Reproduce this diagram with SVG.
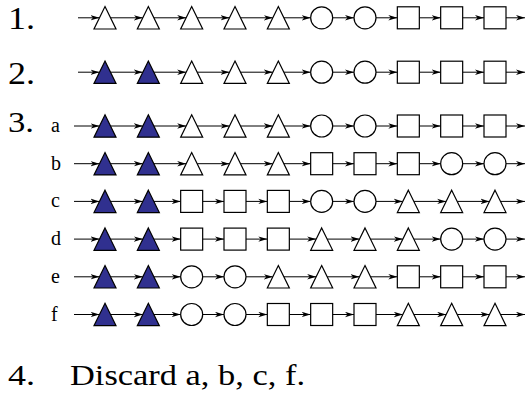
<svg xmlns="http://www.w3.org/2000/svg" xmlns:xlink="http://www.w3.org/1999/xlink" width="526" height="393" viewBox="0 0 526 393">
<style>
.w{fill:#fff;stroke:#000;stroke-width:1.2}
.b{fill:#30308f;stroke:#000;stroke-width:1.2}
.c{stroke:#000;stroke-width:1;fill:none;marker-end:url(#ah)}
.t{font-family:"Liberation Serif","Times New Roman",serif;fill:#000}
.big{font-size:32px}
.mid{font-size:29px}
.lbl{font-size:20px}
</style>
<defs>
<marker id="ah" markerUnits="userSpaceOnUse" markerWidth="11" markerHeight="7" refX="9" refY="3" orient="auto">
<path d="M0,0.3 L9,3 L0,5.7 L2.5,3 z" fill="#000"/>
</marker>
<polygon id="tri" points="0,-11.2 11,11.2 -11,11.2"/>
<circle id="circ" r="11"/>
<rect id="sq" x="-11" y="-11" width="22" height="22"/>
</defs>

<g id="labels">
<text class="t big" x="8" y="29.3" textLength="27" lengthAdjust="spacingAndGlyphs">1.</text>
<text class="t big" x="8" y="83.5" textLength="27" lengthAdjust="spacingAndGlyphs">2.</text>
<text class="t mid" x="8" y="132" textLength="26" lengthAdjust="spacingAndGlyphs">3.</text>
<text class="t lbl" x="51" y="132">a</text>
<text class="t lbl" x="51" y="169.7">b</text>
<text class="t lbl" x="51" y="207.4">c</text>
<text class="t lbl" x="51" y="245.1">d</text>
<text class="t lbl" x="51" y="282.8">e</text>
<text class="t lbl" x="51" y="320.5">f</text>
<text class="t mid" x="8" y="385" textLength="27" lengthAdjust="spacingAndGlyphs">4.</text>
<text class="t mid" x="70" y="385" textLength="235" lengthAdjust="spacingAndGlyphs">Discard a, b, c, f.</text>
</g>

<g id="connectors">
<!-- row 1 -->
<line class="c" x1="78" y1="17.8" x2="99.5" y2="17.8"/>
<line class="c" x1="110.5" y1="17.8" x2="142.83" y2="17.8"/>
<line class="c" x1="153.83" y1="17.8" x2="186.17" y2="17.8"/>
<line class="c" x1="197.17" y1="17.8" x2="229.5" y2="17.8"/>
<line class="c" x1="240.5" y1="17.8" x2="272.83" y2="17.8"/>
<line class="c" x1="283.83" y1="17.8" x2="310.67" y2="17.8"/>
<line class="c" x1="332.67" y1="17.8" x2="354" y2="17.8"/>
<line class="c" x1="376" y1="17.8" x2="397.33" y2="17.8"/>
<line class="c" x1="419.33" y1="17.8" x2="440.67" y2="17.8"/>
<line class="c" x1="462.67" y1="17.8" x2="484" y2="17.8"/>
<line class="c" x1="506" y1="17.8" x2="525" y2="17.8"/>
<!-- row 2 -->
<line class="c" x1="78" y1="72.2" x2="99.5" y2="72.2"/>
<line class="c" x1="110.5" y1="72.2" x2="142.83" y2="72.2"/>
<line class="c" x1="153.83" y1="72.2" x2="186.17" y2="72.2"/>
<line class="c" x1="197.17" y1="72.2" x2="229.5" y2="72.2"/>
<line class="c" x1="240.5" y1="72.2" x2="272.83" y2="72.2"/>
<line class="c" x1="283.83" y1="72.2" x2="310.67" y2="72.2"/>
<line class="c" x1="332.67" y1="72.2" x2="354" y2="72.2"/>
<line class="c" x1="376" y1="72.2" x2="397.33" y2="72.2"/>
<line class="c" x1="419.33" y1="72.2" x2="440.67" y2="72.2"/>
<line class="c" x1="462.67" y1="72.2" x2="484" y2="72.2"/>
<line class="c" x1="506" y1="72.2" x2="525" y2="72.2"/>
<!-- row a -->
<line class="c" x1="74" y1="126" x2="99.5" y2="126"/>
<line class="c" x1="110.5" y1="126" x2="142.83" y2="126"/>
<line class="c" x1="153.83" y1="126" x2="186.17" y2="126"/>
<line class="c" x1="197.17" y1="126" x2="229.5" y2="126"/>
<line class="c" x1="240.5" y1="126" x2="272.83" y2="126"/>
<line class="c" x1="283.83" y1="126" x2="310.67" y2="126"/>
<line class="c" x1="332.67" y1="126" x2="354" y2="126"/>
<line class="c" x1="376" y1="126" x2="397.33" y2="126"/>
<line class="c" x1="419.33" y1="126" x2="440.67" y2="126"/>
<line class="c" x1="462.67" y1="126" x2="484" y2="126"/>
<line class="c" x1="506" y1="126" x2="525" y2="126"/>
<!-- row b -->
<line class="c" x1="74" y1="163.7" x2="99.5" y2="163.7"/>
<line class="c" x1="110.5" y1="163.7" x2="142.83" y2="163.7"/>
<line class="c" x1="153.83" y1="163.7" x2="186.17" y2="163.7"/>
<line class="c" x1="197.17" y1="163.7" x2="229.5" y2="163.7"/>
<line class="c" x1="240.5" y1="163.7" x2="272.83" y2="163.7"/>
<line class="c" x1="283.83" y1="163.7" x2="310.67" y2="163.7"/>
<line class="c" x1="332.67" y1="163.7" x2="354" y2="163.7"/>
<line class="c" x1="376" y1="163.7" x2="397.33" y2="163.7"/>
<line class="c" x1="419.33" y1="163.7" x2="440.67" y2="163.7"/>
<line class="c" x1="462.67" y1="163.7" x2="484" y2="163.7"/>
<line class="c" x1="506" y1="163.7" x2="525" y2="163.7"/>
<!-- row c -->
<line class="c" x1="74" y1="201.4" x2="99.5" y2="201.4"/>
<line class="c" x1="110.5" y1="201.4" x2="142.83" y2="201.4"/>
<line class="c" x1="153.83" y1="201.4" x2="180.67" y2="201.4"/>
<line class="c" x1="202.67" y1="201.4" x2="224" y2="201.4"/>
<line class="c" x1="246" y1="201.4" x2="267.33" y2="201.4"/>
<line class="c" x1="289.33" y1="201.4" x2="310.67" y2="201.4"/>
<line class="c" x1="332.67" y1="201.4" x2="354" y2="201.4"/>
<line class="c" x1="376" y1="201.4" x2="402.83" y2="201.4"/>
<line class="c" x1="413.83" y1="201.4" x2="446.17" y2="201.4"/>
<line class="c" x1="457.17" y1="201.4" x2="489.5" y2="201.4"/>
<line class="c" x1="500.5" y1="201.4" x2="525" y2="201.4"/>
<!-- row d -->
<line class="c" x1="74" y1="239.1" x2="99.5" y2="239.1"/>
<line class="c" x1="110.5" y1="239.1" x2="142.83" y2="239.1"/>
<line class="c" x1="153.83" y1="239.1" x2="180.67" y2="239.1"/>
<line class="c" x1="202.67" y1="239.1" x2="224" y2="239.1"/>
<line class="c" x1="246" y1="239.1" x2="267.33" y2="239.1"/>
<line class="c" x1="289.33" y1="239.1" x2="316.17" y2="239.1"/>
<line class="c" x1="327.17" y1="239.1" x2="359.5" y2="239.1"/>
<line class="c" x1="370.5" y1="239.1" x2="402.83" y2="239.1"/>
<line class="c" x1="413.83" y1="239.1" x2="440.67" y2="239.1"/>
<line class="c" x1="462.67" y1="239.1" x2="484" y2="239.1"/>
<line class="c" x1="506" y1="239.1" x2="525" y2="239.1"/>
<!-- row e -->
<line class="c" x1="74" y1="276.8" x2="99.5" y2="276.8"/>
<line class="c" x1="110.5" y1="276.8" x2="142.83" y2="276.8"/>
<line class="c" x1="153.83" y1="276.8" x2="180.67" y2="276.8"/>
<line class="c" x1="202.67" y1="276.8" x2="224" y2="276.8"/>
<line class="c" x1="246" y1="276.8" x2="272.83" y2="276.8"/>
<line class="c" x1="283.83" y1="276.8" x2="316.17" y2="276.8"/>
<line class="c" x1="327.17" y1="276.8" x2="359.5" y2="276.8"/>
<line class="c" x1="370.5" y1="276.8" x2="397.33" y2="276.8"/>
<line class="c" x1="419.33" y1="276.8" x2="440.67" y2="276.8"/>
<line class="c" x1="462.67" y1="276.8" x2="484" y2="276.8"/>
<line class="c" x1="506" y1="276.8" x2="525" y2="276.8"/>
<!-- row f -->
<line class="c" x1="74" y1="314.5" x2="99.5" y2="314.5"/>
<line class="c" x1="110.5" y1="314.5" x2="142.83" y2="314.5"/>
<line class="c" x1="153.83" y1="314.5" x2="180.67" y2="314.5"/>
<line class="c" x1="202.67" y1="314.5" x2="224" y2="314.5"/>
<line class="c" x1="246" y1="314.5" x2="267.33" y2="314.5"/>
<line class="c" x1="289.33" y1="314.5" x2="310.67" y2="314.5"/>
<line class="c" x1="332.67" y1="314.5" x2="354" y2="314.5"/>
<line class="c" x1="376" y1="314.5" x2="402.83" y2="314.5"/>
<line class="c" x1="413.83" y1="314.5" x2="446.17" y2="314.5"/>
<line class="c" x1="457.17" y1="314.5" x2="489.5" y2="314.5"/>
<line class="c" x1="500.5" y1="314.5" x2="525" y2="314.5"/>
</g>

<!-- row 1 nodes -->
<g id="r1n1"><use href="#tri" class="w" x="105" y="17.8"/></g>
<g id="r1n2"><use href="#tri" class="w" x="148.33" y="17.8"/></g>
<g id="r1n3"><use href="#tri" class="w" x="191.67" y="17.8"/></g>
<g id="r1n4"><use href="#tri" class="w" x="235" y="17.8"/></g>
<g id="r1n5"><use href="#tri" class="w" x="278.33" y="17.8"/></g>
<g id="r1n6"><use href="#circ" class="w" x="321.67" y="17.8"/></g>
<g id="r1n7"><use href="#circ" class="w" x="365" y="17.8"/></g>
<g id="r1n8"><use href="#sq" class="w" x="408.33" y="17.8"/></g>
<g id="r1n9"><use href="#sq" class="w" x="451.67" y="17.8"/></g>
<g id="r1n10"><use href="#sq" class="w" x="495" y="17.8"/></g>
<!-- row 2 nodes -->
<g id="r2n1"><use href="#tri" class="b" x="105" y="72.2"/></g>
<g id="r2n2"><use href="#tri" class="b" x="148.33" y="72.2"/></g>
<g id="r2n3"><use href="#tri" class="w" x="191.67" y="72.2"/></g>
<g id="r2n4"><use href="#tri" class="w" x="235" y="72.2"/></g>
<g id="r2n5"><use href="#tri" class="w" x="278.33" y="72.2"/></g>
<g id="r2n6"><use href="#circ" class="w" x="321.67" y="72.2"/></g>
<g id="r2n7"><use href="#circ" class="w" x="365" y="72.2"/></g>
<g id="r2n8"><use href="#sq" class="w" x="408.33" y="72.2"/></g>
<g id="r2n9"><use href="#sq" class="w" x="451.67" y="72.2"/></g>
<g id="r2n10"><use href="#sq" class="w" x="495" y="72.2"/></g>
<!-- row a -->
<g id="ran1"><use href="#tri" class="b" x="105" y="126"/></g>
<g id="ran2"><use href="#tri" class="b" x="148.33" y="126"/></g>
<g id="ran3"><use href="#tri" class="w" x="191.67" y="126"/></g>
<g id="ran4"><use href="#tri" class="w" x="235" y="126"/></g>
<g id="ran5"><use href="#tri" class="w" x="278.33" y="126"/></g>
<g id="ran6"><use href="#circ" class="w" x="321.67" y="126"/></g>
<g id="ran7"><use href="#circ" class="w" x="365" y="126"/></g>
<g id="ran8"><use href="#sq" class="w" x="408.33" y="126"/></g>
<g id="ran9"><use href="#sq" class="w" x="451.67" y="126"/></g>
<g id="ran10"><use href="#sq" class="w" x="495" y="126"/></g>
<!-- row b -->
<g id="rbn1"><use href="#tri" class="b" x="105" y="163.7"/></g>
<g id="rbn2"><use href="#tri" class="b" x="148.33" y="163.7"/></g>
<g id="rbn3"><use href="#tri" class="w" x="191.67" y="163.7"/></g>
<g id="rbn4"><use href="#tri" class="w" x="235" y="163.7"/></g>
<g id="rbn5"><use href="#tri" class="w" x="278.33" y="163.7"/></g>
<g id="rbn6"><use href="#sq" class="w" x="321.67" y="163.7"/></g>
<g id="rbn7"><use href="#sq" class="w" x="365" y="163.7"/></g>
<g id="rbn8"><use href="#sq" class="w" x="408.33" y="163.7"/></g>
<g id="rbn9"><use href="#circ" class="w" x="451.67" y="163.7"/></g>
<g id="rbn10"><use href="#circ" class="w" x="495" y="163.7"/></g>
<!-- row c -->
<g id="rcn1"><use href="#tri" class="b" x="105" y="201.4"/></g>
<g id="rcn2"><use href="#tri" class="b" x="148.33" y="201.4"/></g>
<g id="rcn3"><use href="#sq" class="w" x="191.67" y="201.4"/></g>
<g id="rcn4"><use href="#sq" class="w" x="235" y="201.4"/></g>
<g id="rcn5"><use href="#sq" class="w" x="278.33" y="201.4"/></g>
<g id="rcn6"><use href="#circ" class="w" x="321.67" y="201.4"/></g>
<g id="rcn7"><use href="#circ" class="w" x="365" y="201.4"/></g>
<g id="rcn8"><use href="#tri" class="w" x="408.33" y="201.4"/></g>
<g id="rcn9"><use href="#tri" class="w" x="451.67" y="201.4"/></g>
<g id="rcn10"><use href="#tri" class="w" x="495" y="201.4"/></g>
<!-- row d -->
<g id="rdn1"><use href="#tri" class="b" x="105" y="239.1"/></g>
<g id="rdn2"><use href="#tri" class="b" x="148.33" y="239.1"/></g>
<g id="rdn3"><use href="#sq" class="w" x="191.67" y="239.1"/></g>
<g id="rdn4"><use href="#sq" class="w" x="235" y="239.1"/></g>
<g id="rdn5"><use href="#sq" class="w" x="278.33" y="239.1"/></g>
<g id="rdn6"><use href="#tri" class="w" x="321.67" y="239.1"/></g>
<g id="rdn7"><use href="#tri" class="w" x="365" y="239.1"/></g>
<g id="rdn8"><use href="#tri" class="w" x="408.33" y="239.1"/></g>
<g id="rdn9"><use href="#circ" class="w" x="451.67" y="239.1"/></g>
<g id="rdn10"><use href="#circ" class="w" x="495" y="239.1"/></g>
<!-- row e -->
<g id="ren1"><use href="#tri" class="b" x="105" y="276.8"/></g>
<g id="ren2"><use href="#tri" class="b" x="148.33" y="276.8"/></g>
<g id="ren3"><use href="#circ" class="w" x="191.67" y="276.8"/></g>
<g id="ren4"><use href="#circ" class="w" x="235" y="276.8"/></g>
<g id="ren5"><use href="#tri" class="w" x="278.33" y="276.8"/></g>
<g id="ren6"><use href="#tri" class="w" x="321.67" y="276.8"/></g>
<g id="ren7"><use href="#tri" class="w" x="365" y="276.8"/></g>
<g id="ren8"><use href="#sq" class="w" x="408.33" y="276.8"/></g>
<g id="ren9"><use href="#sq" class="w" x="451.67" y="276.8"/></g>
<g id="ren10"><use href="#sq" class="w" x="495" y="276.8"/></g>
<!-- row f -->
<g id="rfn1"><use href="#tri" class="b" x="105" y="314.5"/></g>
<g id="rfn2"><use href="#tri" class="b" x="148.33" y="314.5"/></g>
<g id="rfn3"><use href="#circ" class="w" x="191.67" y="314.5"/></g>
<g id="rfn4"><use href="#circ" class="w" x="235" y="314.5"/></g>
<g id="rfn5"><use href="#sq" class="w" x="278.33" y="314.5"/></g>
<g id="rfn6"><use href="#sq" class="w" x="321.67" y="314.5"/></g>
<g id="rfn7"><use href="#sq" class="w" x="365" y="314.5"/></g>
<g id="rfn8"><use href="#tri" class="w" x="408.33" y="314.5"/></g>
<g id="rfn9"><use href="#tri" class="w" x="451.67" y="314.5"/></g>
<g id="rfn10"><use href="#tri" class="w" x="495" y="314.5"/></g>
</svg>
